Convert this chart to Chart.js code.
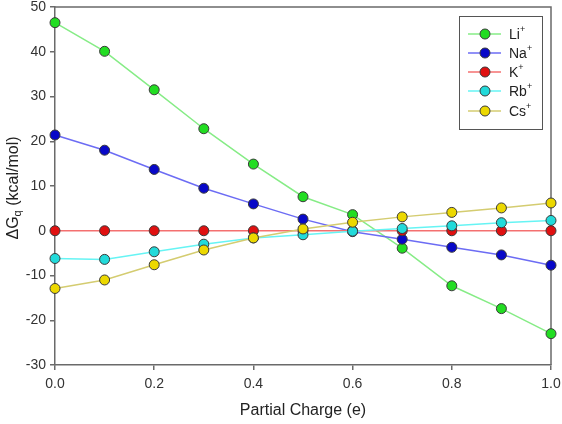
<!DOCTYPE html>
<html>
<head>
<meta charset="utf-8">
<script src="https://cdn.jsdelivr.net/npm/chart.js@4.4.0/dist/chart.umd.min.js"></script>
<style>
  html, body { margin: 0; padding: 0; background: #fff; }
  #wrap { width: 562px; height: 424px; }
</style>
</head>
<body>
<div id="wrap"><canvas id="myChart" width="562" height="424"></canvas></div>
<script>
const charges = [0.0, 0.1, 0.2, 0.3, 0.4, 0.5, 0.6, 0.7, 0.8, 0.9, 1.0];
const li = [46.5, 40.1, 31.5, 22.8, 14.9, 7.6, 3.6, -3.9, -12.3, -17.4, -23.0];
const na = [21.4, 18.0, 13.7, 9.5, 6.0, 2.6, -0.2, -1.9, -3.7, -5.4, -7.7];
const k  = [0, 0, 0, 0, 0, 0, 0, 0, 0, 0, 0];
const rb = [-6.2, -6.4, -4.7, -3.0, -1.6, -0.9, -0.1, 0.5, 1.1, 1.8, 2.3];
const cs = [-12.9, -11.0, -7.6, -4.3, -1.6, 0.4, 1.9, 3.1, 4.1, 5.1, 6.2];

const ionNames = ['Li', 'Na', 'K', 'Rb', 'Cs'];
const lineColors = ['#86ec86', '#6c6cf4', '#f47070', '#66f4f4', '#d4cc70'];
const fillColors = ['#22dd22', '#0808c8', '#e01010', '#22dada', '#ecd800'];

const FONT = '"Liberation Sans", Arial, sans-serif';

const ctx = document.getElementById('myChart').getContext('2d');

function toPoints(arr) {
  return arr.map((v, i) => ({ x: charges[i], y: v }));
}

const series = [li, na, k, rb, cs];
const datasets = series.map((s, i) => ({
  label: ionNames[i] + '+',
  data: toPoints(s),
  borderColor: lineColors[i],
  borderWidth: 1.5,
  pointRadius: 5,
  pointBackgroundColor: fillColors[i],
  pointBorderColor: '#3a3a3a',
  pointBorderWidth: 1,
  tension: 0,
  clip: false,
  order: 5 - i
}));

// axis titles, frame and legend box
const extras = {
  id: 'extras',
  beforeDatasetsDraw(chart) {
    const c = chart.ctx;
    const a = chart.chartArea;
    c.save();
    // frame top and right
    c.strokeStyle = '#6a6a6a';
    c.lineWidth = 1.5;
    c.beginPath();
    c.moveTo(a.left, a.top);
    c.lineTo(a.right, a.top);
    c.lineTo(a.right, a.bottom);
    c.stroke();
    c.restore();
  },
  afterDraw(chart) {
    const c = chart.ctx;
    const a = chart.chartArea;
    c.save();
    // x title
    c.fillStyle = '#222';
    c.font = '16px ' + FONT;
    c.textAlign = 'center';
    c.textBaseline = 'middle';
    c.fillText('Partial Charge (e)', (a.left + a.right) / 2, 411);

    // y title with subscript
    c.translate(14, 188);
    c.rotate(-Math.PI / 2);
    const p1 = 'ΔG', p2 = 'q', p3 = ' (kcal/mol)';
    c.font = '16px ' + FONT;
    const w1 = c.measureText(p1).width;
    const w3 = c.measureText(p3).width;
    c.font = '11px ' + FONT;
    const w2 = c.measureText(p2).width;
    let x = -(w1 + w2 + w3) / 2;
    c.textAlign = 'left';
    c.font = '16px ' + FONT;
    c.fillText(p1, x, 0);
    x += w1;
    c.font = '11px ' + FONT;
    c.fillText(p2, x, 4);
    x += w2;
    c.font = '16px ' + FONT;
    c.fillText(p3, x, 0);
    c.restore();

    // legend
    c.save();
    const lx = 459, ly = 16, lw = 83, lh = 113;
    c.fillStyle = '#fff';
    c.fillRect(lx, ly, lw, lh);
    c.strokeStyle = '#555';
    c.lineWidth = 1;
    c.strokeRect(lx + 0.5, ly + 0.5, lw, lh);
    const rows = [34, 53, 72, 91, 111];
    chart.data.datasets.forEach((ds, i) => {
      const yy = rows[i];
      c.strokeStyle = ds.borderColor;
      c.lineWidth = 1.5;
      c.beginPath();
      c.moveTo(468, yy);
      c.lineTo(501, yy);
      c.stroke();
      c.beginPath();
      c.arc(485, yy, 5, 0, Math.PI * 2);
      c.fillStyle = ds.pointBackgroundColor;
      c.fill();
      c.strokeStyle = '#3a3a3a';
      c.lineWidth = 1;
      c.stroke();
      c.fillStyle = '#222';
      c.textBaseline = 'middle';
      c.textAlign = 'left';
      c.font = '14px ' + FONT;
      c.fillText(ionNames[i], 509, yy + 1);
      const tw = c.measureText(ionNames[i]).width;
      c.font = '9px ' + FONT;
      c.fillText('+', 509 + tw, yy - 4);
    });
    c.restore();
  }
};

const config = {
  type: 'line',
  data: { datasets },
  options: {
    responsive: false,
    animation: false,
    layout: { padding: { top: 7, right: 11, left: 0, bottom: 0 } },
    plugins: {
      legend: { display: false },
      tooltip: { enabled: false }
    },
    scales: {
      x: {
        type: 'linear',
        min: 0,
        max: 1,
        ticks: {
          stepSize: 0.2,
          color: '#333',
          font: { family: FONT, size: 14 },
          padding: 6,
          callback: v => v.toFixed(1)
        },
        grid: { drawOnChartArea: false, drawTicks: true, tickLength: 5, color: '#6a6a6a', lineWidth: 1.5 },
        border: { display: true, color: '#6a6a6a', width: 1.5 },
        afterFit(scale) {
          scale.height = 59;
          scale.paddingLeft = 0;
          scale.paddingRight = 0;
        }
      },
      y: {
        min: -30,
        max: 50,
        ticks: {
          stepSize: 10,
          color: '#333',
          font: { family: FONT, size: 14 },
          padding: 4
        },
        grid: { drawOnChartArea: false, drawTicks: true, tickLength: 5, color: '#6a6a6a', lineWidth: 1.5 },
        border: { display: true, color: '#6a6a6a', width: 1.5 },
        afterFit(scale) {
          scale.width = 55;
          scale.paddingTop = 0;
          scale.paddingBottom = 0;
        }
      }
    }
  },
  plugins: [extras]
};

let myChart = new Chart(ctx, config);
</script>
</body>
</html>
